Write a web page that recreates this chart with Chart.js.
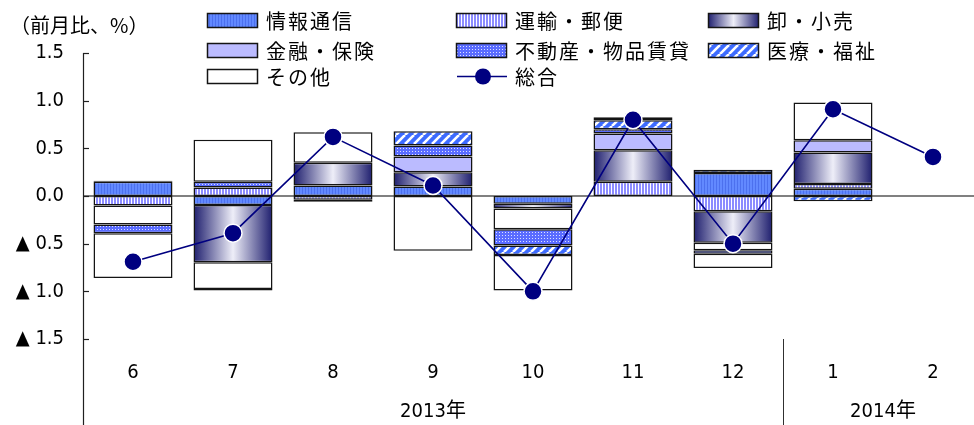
<!DOCTYPE html>
<html><head><meta charset="utf-8">
<script src="https://cdn.jsdelivr.net/npm/chart.js@4.4.1/dist/chart.umd.min.js"></script>
<style>
html,body{margin:0;padding:0;overflow:hidden;background:#fff;width:974px;height:425px}
#wrap{position:absolute;left:0;top:0;width:983px;height:425px}
canvas{display:block}
</style>
</head><body><div id="wrap"><canvas id="c" width="983" height="425" style="width:983px;height:425px"></canvas></div>
<script>
// ---- data ----
const months = ['6','7','8','9','10','11','12','1','2'];
const yearLabels = ['2013年','2014年'];
const yearStart = [0, 7];
const yearEnd = [6, 8];
const info      = [0.15, -0.095, 0.11, 0.10, -0.08, null, 0.24, 0.075, null];   // 情報通信
const transport = [-0.10, 0.09, -0.04, null, null, 0.15, -0.16, 0.05, null];    // 運輸・郵便
const trade     = [0.01, -0.60, 0.24, 0.15, -0.05, 0.33, -0.33, 0.33, null];    // 卸・小売
const finance   = [-0.20, -0.28, null, 0.165, -0.22, 0.175, -0.08, 0.13, null]; // 金融・保険
const realty    = [-0.09, 0.06, -0.02, 0.115, -0.17, 0.045, -0.035, null, null];// 不動産・物品賃貸
const medical   = [null, -0.015, null, 0.15, -0.10, 0.095, 0.035, -0.055, null];// 医療・福祉
const other     = [-0.47, 0.44, 0.32, -0.575, -0.37, 0.03, -0.15, 0.395, null]; // その他
const total     = [-0.69, -0.39, 0.62, 0.11, -1.0, 0.80, -0.50, 0.91, 0.41];    // 総合
const seriesNames = ['情報通信','運輸・郵便','卸・小売','金融・保険','不動産・物品賃貸','医療・福祉','その他','総合'];

const canvas = document.getElementById('c');
const mctx = canvas.getContext('2d');
function pat(w,h,draw){const t=document.createElement('canvas');t.width=w;t.height=h;const x=t.getContext('2d');draw(x,w,h);return mctx.createPattern(t,'repeat');}
const pInfo = pat(3,1,(x)=>{x.fillStyle='#6289FF';x.fillRect(0,0,3,1);x.fillStyle='#4C70EE';x.fillRect(2,0,1,1);});
const pTrans = pat(3,1,(x)=>{x.fillStyle='#8C8CFF';x.fillRect(0,0,3,1);x.fillStyle='#FFFFFF';x.fillRect(2,0,1,1);});
const pRealty = pat(3,3,(x)=>{x.fillStyle='#5A6CFF';x.fillRect(0,0,3,3);x.fillStyle='#DDE2FF';x.fillRect(1,1,1,1);});
const pMed = pat(9,9,(x)=>{x.fillStyle='#3D6BFF';x.fillRect(0,0,9,9);x.strokeStyle='#FFFFFF';x.lineWidth=2.6;
  for(const o of [-9,0,9]){x.beginPath();x.moveTo(o,9);x.lineTo(o+9,0);x.stroke();}});
const FIN='#BBBBFF';
function grad(c,x0,x1){const g=c.createLinearGradient(x0,0,x1,0);g.addColorStop(0,'#1E1E6E');g.addColorStop(0.5,'#EEEEF8');g.addColorStop(1,'#1E1E6E');return g;}
function tradeBg(ctx){
  const ch=ctx.chart, xs=ch.scales && ch.scales.x;
  if(!xs || ctx.dataIndex===undefined) return '#7777AA';
  const cx=xs.getPixelForValue(ctx.dataIndex);
  const hw=(xs.width/months.length)*0.79/2;
  if(!isFinite(cx)||!isFinite(hw)||hw<=0) return '#7777AA';
  return grad(ch.ctx,cx-hw,cx+hw);
}
const FONT='"DejaVu Sans Condensed","Liberation Sans Narrow","Noto Sans CJK JP",sans-serif';
const JFONT='"Noto Sans CJK JP",sans-serif';

function bar(label,data,bg){return {type:'bar',label,data,backgroundColor:bg,borderColor:'#141414',borderWidth:1.5,borderSkipped:false,
  barPercentage:0.79,categoryPercentage:1.0,order:2,yAxisID:'y'};}

const datasets=[
  bar(seriesNames[0],info,pInfo),
  bar(seriesNames[1],transport,pTrans),
  bar(seriesNames[2],trade,tradeBg),
  bar(seriesNames[3],finance,(c)=>{const v=c.raw;return (typeof v==='number'&&v<0)?'#FFFFFF':FIN;}),
  bar(seriesNames[4],realty,pRealty),
  bar(seriesNames[5],medical,pMed),
  bar(seriesNames[6],other,'#FFFFFF'),
  {type:'line',label:seriesNames[7],data:total,borderColor:'#000080',borderWidth:1.6,tension:0,
   pointRadius:9,pointBackgroundColor:'#000080',pointBorderColor:'#FFFFFF',pointBorderWidth:1.5,order:1,yAxisID:'y2'}
];

const legendItems=[
  {i:0,fill:pInfo,col:0,row:0},{i:1,fill:pTrans,col:1,row:0},{i:2,fill:'grad',col:2,row:0},
  {i:3,fill:FIN,col:0,row:1},{i:4,fill:pRealty,col:1,row:1},{i:5,fill:pMed,col:2,row:1},
  {i:6,fill:'#FFFFFF',col:0,row:2},{i:7,fill:'line',col:1,row:2}
];
const colX=[207,456,708]; const rowC=[20.5,50.5,76.5];

const deco={id:'deco',
  beforeDatasetsDraw(ch){
    const c=ch.ctx, a=ch.chartArea, y=ch.scales.y;
    const y0=y.getPixelForValue(0);
    c.save();c.strokeStyle='#808080';c.lineWidth=2;c.beginPath();c.moveTo(a.left,y0);c.lineTo(ch.width,y0);c.stroke();c.restore();
  },
  afterDraw(ch){
    const c=ch.ctx, a=ch.chartArea, y=ch.scales.y, xs=ch.scales.x;
    c.save();
    c.strokeStyle='#202020';c.lineWidth=1.2;
    c.beginPath();c.moveTo(a.left+0.5,a.top);c.lineTo(a.left+0.5,ch.height);c.stroke();
    for(const t of y.ticks){const py=Math.round(y.getPixelForValue(t.value))+0.5;c.beginPath();c.moveTo(a.left,py);c.lineTo(a.left+6,py);c.stroke();}
    const sx=(xs.getPixelForValue(yearEnd[0])+xs.getPixelForValue(yearStart[1]))/2;
    c.lineWidth=1;c.strokeStyle='#303030';
    c.beginPath();c.moveTo(Math.round(sx)+0.5,a.bottom);c.lineTo(Math.round(sx)+0.5,ch.height);c.stroke();
    c.fillStyle='#000';c.font='20px '+FONT;c.textAlign='center';c.textBaseline='middle';
    for(let k=0;k<yearLabels.length;k++){
      const cx=(xs.getPixelForValue(yearStart[k])+xs.getPixelForValue(yearEnd[k]))/2;
      c.fillText(yearLabels[k],cx,412);
    }
    c.textAlign='left';c.font='20px '+JFONT;
    c.fillText('（前月比、%）',10,25);
    c.font='20px '+JFONT;
    if('letterSpacing' in c) c.letterSpacing='2px';
    for(const it of legendItems){
      const bx=colX[it.col], cy=rowC[it.row];
      const by=cy-7.5, bw=51, bh=15;
      if(it.fill==='line'){
        c.strokeStyle='#000080';c.lineWidth=1.6;c.beginPath();c.moveTo(bx+1,cy);c.lineTo(bx+bw,cy);c.stroke();
        c.fillStyle='#000080';c.beginPath();c.arc(bx+27,cy,8,0,Math.PI*2);c.fill();
      } else {
        c.fillStyle=it.fill==='grad'?grad(c,bx,bx+bw):it.fill;
        c.fillRect(bx,by,bw,bh);
        c.strokeStyle='#141414';c.lineWidth=1.5;c.strokeRect(bx+0.5,by+0.5,bw-1,bh-1);
      }
      c.fillStyle='#000';c.textBaseline='middle';
      c.fillText(seriesNames[it.i],bx+59,cy+1);
    }
    c.restore();
  }
};

new Chart(canvas,{
  data:{labels:months,datasets},
  options:{
    responsive:false,animation:false,
    layout:{autoPadding:false,padding:{top:53,left:0,right:0,bottom:0}},
    plugins:{legend:{display:false},tooltip:{enabled:false}},
    scales:{
      x:{stacked:true,offset:true,grid:{display:false,drawTicks:false},border:{display:false},
         ticks:{font:{family:FONT,size:20},color:'#000',padding:22,maxRotation:0},
         afterFit(s){s.height=86;s.paddingLeft=0;s.paddingRight=0;}},
      y:{stacked:true,min:-1.5,max:1.5,grid:{display:false,drawTicks:false},border:{display:false},
         ticks:{stepSize:0.5,font:{family:FONT,size:20},color:'#000',padding:19,
           callback:(v)=>{const r=Math.round(v*10)/10;return r<0?'▲ '+Math.abs(r).toFixed(1):r.toFixed(1);}},
         afterFit(s){s.width=83;}},
      y2:{display:false,min:-1.5,max:1.5}
    }
  },
  plugins:[deco]
});
</script></body></html>
